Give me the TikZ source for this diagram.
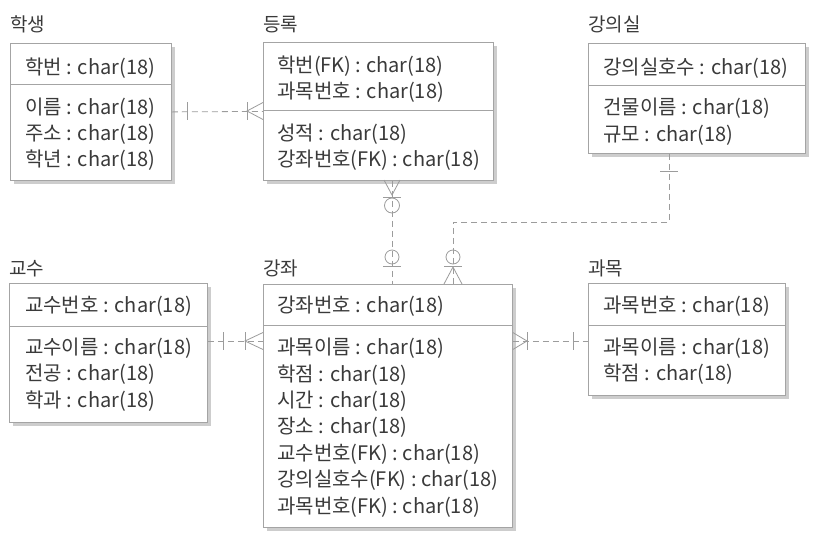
\documentclass[tikz,border=0pt]{standalone}
\usepackage{fontspec}
\newfontfamily\kr{Noto Sans CJK KR}
\usetikzlibrary{shadows}
\definecolor{txt}{HTML}{3A3A3A}
\definecolor{edge}{HTML}{A4A4A4}
\definecolor{shade}{HTML}{CDCDCD}
\definecolor{link}{HTML}{9C9C9C}

\begin{document}
\begin{tikzpicture}[x=1pt,y=-1pt,
  entity/.style={draw=edge,line width=.8pt,fill=white,anchor=north west,inner sep=0pt,
    drop shadow={shadow xshift=4pt,shadow yshift=-4pt,fill=shade,opacity=1}},
  title/.style={anchor=base west,inner sep=0pt,text=txt,font=\kr\fontsize{19}{19}\selectfont},
  attr/.style={anchor=base west,inner sep=0pt,text=txt,font=\kr\fontsize{20}{20}\selectfont},
  sep/.style={draw=edge,line width=.8pt},
  rel/.style={draw=link,line width=.8pt,dash pattern=on 6pt off 4pt},
  sym/.style={draw=link,line width=.8pt}]

\useasboundingbox[fill=white] (0,0) rectangle (820,542);

% entities
\node[entity,minimum width=161pt,minimum height=137pt] (hs) at (10,43) {};
\node[entity,minimum width=230pt,minimum height=138pt] (dr) at (263,42) {};
\node[entity,minimum width=217pt,minimum height=110pt] (gus) at (588,43) {};
\node[entity,minimum width=198pt,minimum height=139pt] (gs) at (9,283) {};
\node[entity,minimum width=249pt,minimum height=243pt] (gj) at (263,284) {};
\node[entity,minimum width=197pt,minimum height=112pt] (gm) at (588,283) {};

\draw[sep] (hs.west |- 0,84) -- (hs.east |- 0,84);
\draw[sep] (dr.west |- 0,110) -- (dr.east |- 0,110);
\draw[sep] (gus.west |- 0,85) -- (gus.east |- 0,85);
\draw[sep] (gs.west |- 0,326) -- (gs.east |- 0,326);
\draw[sep] (gj.west |- 0,325) -- (gj.east |- 0,325);
\draw[sep] (gm.west |- 0,325) -- (gm.east |- 0,325);

% titles
\node[title] (hs-t) at (10,31) {학생};
\node[title] (dr-t) at (263,31) {등록};
\node[title] (gus-t) at (588,31) {강의실};
\node[title] (gs-t) at (9,275) {교수};
\node[title] (gj-t) at (263,275) {강좌};
\node[title] (gm-t) at (588,275) {과목};

% attributes
\node[attr] (hs-k) at (25,74) {학번 : char(18)};
\foreach \t [count=\i from 0] in {이름 : char(18),주소 : char(18),학년 : char(18)}
  \node[attr] (hs-\i) at (25,{114+26.4*\i}) {\t};

\foreach \t [count=\i from 0] in {학번(FK) : char(18),과목번호 : char(18)}
  \node[attr] (dr-k\i) at (277,{72+26*\i}) {\t};
\foreach \t [count=\i from 0] in {성적 : char(18),강좌번호(FK) : char(18)}
  \node[attr] (dr-\i) at (277,{140+26.4*\i}) {\t};

\node[attr] (gus-k) at (603,74.6) {강의실호수 : char(18)};
\foreach \t [count=\i from 0] in {건물이름 : char(18),규모 : char(18)}
  \node[attr] (gus-\i) at (603,{114.6+26.4*\i}) {\t};

\node[attr] (gs-k) at (25,312.6) {교수번호 : char(18)};
\foreach \t [count=\i from 0] in {교수이름 : char(18),전공 : char(18),학과 : char(18)}
  \node[attr] (gs-\i) at (25,{354.3+26.4*\i}) {\t};

\node[attr] (gj-k) at (277,312.6) {강좌번호 : char(18)};
\foreach \t [count=\i from 0] in {과목이름 : char(18),학점 : char(18),시간 : char(18),장소 : char(18),
    교수번호(FK) : char(18),강의실호수(FK) : char(18),과목번호(FK) : char(18)}
  \node[attr] (gj-\i) at (277,{354.6+26.4*\i}) {\t};

\node[attr] (gm-k) at (603,312.6) {과목번호 : char(18)};
\foreach \t [count=\i from 0] in {과목이름 : char(18),학점 : char(18)}
  \node[attr] (gm-\i) at (603,{354.3+26.6*\i}) {\t};

% relationships
\draw[rel] (hs.east) -- (dr.west);
\draw[sym] (187,102) -- (187,120);
\draw[sym] (247,102) -- (247,120);
\draw[sym] (dr.west |- 0,102.5) -- (247,111) -- (dr.west |- 0,119.5);

\draw[rel] (392,0 |- dr.south) -- (392,0 |- gj.north);
\draw[sym] (384,180) -- (392,195) -- (400,180);
\draw[sym] (383,197) -- (401,197);
\draw[sym] (392,205.5) circle[radius=7.5pt];
\draw[sym] (392,257) circle[radius=7pt];
\draw[sym] (383,266) -- (401,266);

\coordinate (bend) at (669,222);
\draw[rel] (669,0 |- gus.south) -- (bend) -| (453,0 |- gj.north);
\draw[sym] (660,171) -- (678,171);
\draw[sym] (453,257) circle[radius=7pt];
\draw[sym] (444,266) -- (462,266);
\draw[sym] (444,284) -- (453,267) -- (462,284);

\draw[rel] (gs.east |- 0,341) -- (gj.west |- 0,341);
\draw[sym] (223,332) -- (223,350);
\draw[sym] (245,332) -- (245,350);
\draw[sym] (gj.west |- 0,332.5) -- (245,341) -- (gj.west |- 0,349.5);

\draw[rel] (gj.east |- 0,341) -- (gm.west |- 0,341);
\draw[sym] (gj.east |- 0,332.5) -- (527,341) -- (gj.east |- 0,349.5);
\draw[sym] (527,332) -- (527,350);
\draw[sym] (573,332) -- (573,350);

\end{tikzpicture}
\end{document}
